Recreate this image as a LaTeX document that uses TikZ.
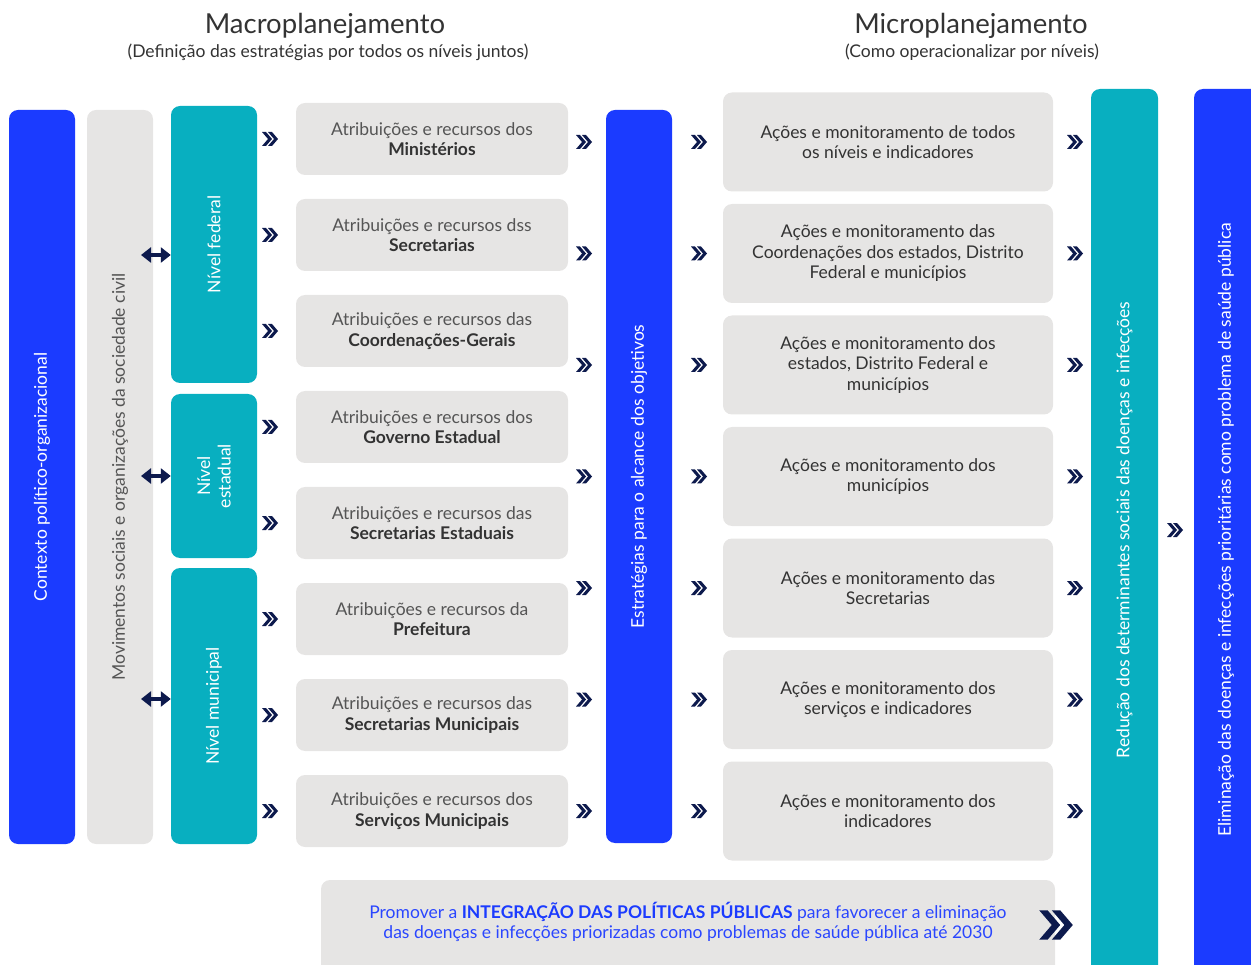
\documentclass[tikz,border=0pt]{standalone}
\usepackage{fontspec}
\setmainfont{Lato}
\usetikzlibrary{arrows.meta}
\definecolor{cblue}{HTML}{1B3BFF}
\definecolor{cteal}{HTML}{08AFC0}
\definecolor{cgray}{HTML}{E6E5E4}
\definecolor{cnavy}{HTML}{0D1A4D}
\definecolor{ctext}{HTML}{555555}
\definecolor{cdark}{HTML}{333333}
\definecolor{cpblue}{HTML}{2A46FF}
\tikzset{
  box/.style={rounded corners=9pt, inner sep=0pt, draw=none},
  bluebox/.style={box, fill=cblue},
  tealbox/.style={box, fill=cteal},
  graybox/.style={box, fill=cgray},
  txt/.style={font=\fontsize{17.5}{20.5}\selectfont, align=center, inner sep=0pt},
  rottxt/.style={txt, rotate=90},
  dblarrow/.style={{Triangle[length=10pt,width=15pt]}-{Triangle[length=10pt,width=15pt]}, line width=4.5pt, cnavy},
  pics/chev/.style={code={
    \fill[cnavy] (-8,-7) -- (-4,-7) -- (2,0) -- (-4,7) -- (-8,7) -- (-2,0) -- cycle;
    \fill[cnavy] (-2,-7) -- (2,-7) -- (8,0) -- (2,7) -- (-2,7) -- (4,0) -- cycle;
  }},
}
\begin{document}
\begin{tikzpicture}[x=1pt,y=-1pt]
\useasboundingbox (0,0) rectangle (1251,965);
\clip (0,0) rectangle (1251,965);

% titles
\node[font=\fontsize{27.5}{31}\selectfont, text=cdark] (tmacro) at (325,26) {Macroplanejamento};
\node[txt, text=cdark] (smacro) at (328,52) {(Definição das estratégias por todos os níveis juntos)};
\node[font=\fontsize{27.5}{31}\selectfont, text=cdark] (tmicro) at (971,26) {Microplanejamento};
\node[txt, text=cdark] (smicro) at (972,52) {(Como operacionalizar por níveis)};

% left columns
\node[bluebox, minimum width=66pt, minimum height=734pt] (ctx) at (42,477) {};
\node[rottxt, text=white] at (ctx.center) {Contexto político-organizacional};
\node[graybox, minimum width=66pt, minimum height=734pt] (mov) at (120,477) {};
\node[rottxt, text=ctext] at (mov.center) {Movimentos sociais e organizações da sociedade civil};

\node[tealbox, minimum width=86pt, minimum height=277pt] (fed) at (214,244.5) {};
\node[rottxt, text=white] at (fed.center) {Nível federal};
\node[tealbox, minimum width=86pt, minimum height=164pt] (est) at (214,476) {};
\node[rottxt, text=white] at (est.center) {Nível\\estadual};
\node[tealbox, minimum width=86pt, minimum height=276pt] (mun) at (214,706) {};
\node[rottxt, text=white] at (mun.center) {Nível municipal};

% double arrows
\coordinate (da1) at (141,255); \coordinate (da2) at (141,476); \coordinate (da3) at (141,699);
\draw[dblarrow] (da1) -- (da1 -| fed.west);
\draw[dblarrow] (da2) -- (da2 -| est.west);
\draw[dblarrow] (da3) -- (da3 -| mun.west);

% attribution boxes
\foreach \i/\y/\a/\b in {1/139/dos/Ministérios, 2/235/dss/Secretarias, 3/331/das/Coordenações-Gerais,
  4/427/dos/Governo Estadual, 5/523/das/Secretarias Estaduais, 6/619/da/Prefeitura,
  7/715/das/Secretarias Municipais, 8/811/dos/Serviços Municipais}{
  \node[graybox, minimum width=272pt, minimum height=72pt] (at\i) at (432,\y) {};
  \node[txt, text=ctext] at (at\i.center) {Atribuições e recursos \a\\\textcolor{cdark}{\bfseries \b}};
  \pic at (270,\y) {chev};
}

% strategy column
\node[bluebox, minimum width=66pt, minimum height=733pt] (estr) at (639,476.5) {};
\node[rottxt, text=white] at (estr.center) {Estratégias para o alcance dos objetivos};

% actions boxes
\foreach \i/\y/\t in {1/142/{Ações e monitoramento de todos\\os níveis e indicadores},
  2/253.5/{Ações e monitoramento das\\Coordenações dos estados, Distrito\\Federal e municípios},
  3/365/{Ações e monitoramento dos\\estados, Distrito Federal e\\municípios},
  4/476.5/{Ações e monitoramento dos\\municípios},
  5/588/{Ações e monitoramento das\\Secretarias},
  6/699.5/{Ações e monitoramento dos\\serviços e indicadores},
  7/811/{Ações e monitoramento dos\\indicadores}}{
  \node[graybox, minimum width=330pt, minimum height=99pt] (ac\i) at (888,\y) {};
  \node[txt, text=cdark] at (ac\i.center) {\t};
  \pic at (584,\y) {chev};
  \pic at (699,\y) {chev};
  \pic at (1075,\y) {chev};
}

% right columns
\node[tealbox, minimum width=67pt, minimum height=940pt] (red) at (1124.5,559) {};
\node[rottxt, text=white] at (1124.5,530) {Redução dos determinantes sociais das doenças e infecções};
\node[bluebox, minimum width=70pt, minimum height=940pt] (elim) at (1229,559) {};
\node[rottxt, text=white] at (1226,530) {Eliminação das doenças e infecções prioritárias como problema de saúde pública};
\pic at (1175,530) {chev};

% bottom box
\node[graybox, minimum width=734pt, minimum height=140pt] (prom) at (688,950) {};
\node[txt, text=cpblue] at (688,922) {Promover a \textbf{\textcolor{cblue}{INTEGRAÇÃO DAS POLÍTICAS PÚBLICAS}} para favorecer a eliminação\\das doenças e infecções priorizadas como problemas de saúde pública até 2030};
\pic[scale=2.1] at (1056,925) {chev};
\end{tikzpicture}
\end{document}
